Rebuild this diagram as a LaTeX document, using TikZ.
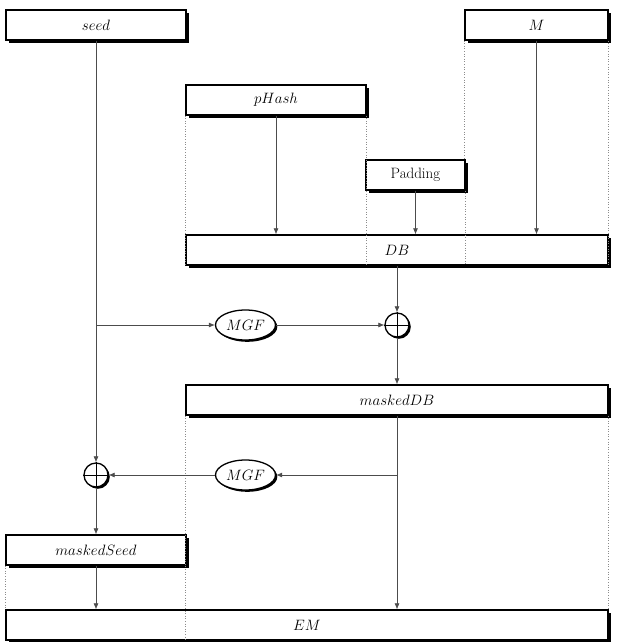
\RequirePackage{fix-cm}
\documentclass[tikz,border=0pt]{standalone}
\usetikzlibrary{arrows.meta,shapes.geometric,shadows}
\begin{document}
\begin{tikzpicture}[x=1pt,y=-1pt,
  shad/.style={drop shadow={shadow xshift=3pt,shadow yshift=-3pt,fill=black,opacity=1}},
  rshad/.style={drop shadow={shadow xshift=1.8pt,shadow yshift=-1.8pt,fill=black,opacity=1}},
  box/.style={draw,rectangle,line width=1.3pt,fill=white,inner sep=0pt,minimum height=30pt,
    font=\fontsize{15}{18}\selectfont,shad},
  mgf/.style={draw,ellipse,line width=1.3pt,fill=white,inner sep=0pt,minimum width=60pt,
    minimum height=30pt,font=\fontsize{15}{18}\selectfont,rshad},
  xorc/.style={draw,circle,line width=1.3pt,fill=white,inner sep=0pt,minimum size=24pt,rshad},
  conn/.style={draw=black!70,line width=0.7pt,-{Latex[length=6pt,width=5pt]}},
  dots/.style={draw=black!45,line width=0.6pt,dotted}]
\useasboundingbox (0,0) rectangle (618,642);
% boxes
\node[box,minimum width=180pt] (seed) at (96,25) {$seed$};
\node[box,minimum width=143pt] (M) at (536.5,25) {$M$};
\node[box,minimum width=180pt] (pHash) at (276,100) {$pHash$};
\node[box,minimum width=99pt] (Pad) at (415.5,175) {Padding};
\node[box,minimum width=422pt] (DB) at (397,250) {$DB$};
\node[mgf] (m1) at (245.5,325) {$MGF$};
\node[xorc] (x1) at (397,325) {};
\node[box,minimum width=422pt] (mDB) at (397,400) {$maskedDB$};
\node[mgf] (m2) at (245.5,475) {$MGF$};
\node[xorc] (x2) at (96,475) {};
\node[box,minimum width=180pt] (mSeed) at (96,550) {$maskedSeed$};
\node[box,minimum width=602pt] (EM) at (307,625) {$EM$};
% xor crosses
\foreach \n in {x1,x2}{
  \draw[line width=0.7pt] (\n.north) -- (\n.south) (\n.west) -- (\n.east);
}
% dotted guides
\draw[dots] (pHash.south west) -- (pHash.south west |- DB.south);
\draw[dots] (pHash.south east) -- (pHash.south east |- DB.south);
\draw[dots] (Pad.south east) -- (Pad.south east |- DB.south);
\draw[dots] (M.south west) -- (M.south west |- Pad.north);
\draw[dots] (M.south east) -- (M.south east |- DB.south);
\draw[dots] (mDB.south west) -- (mDB.south west |- EM.south);
\draw[dots] (mDB.south east) -- (mDB.south east |- EM.north);
\draw[dots] (mSeed.south west) -- (mSeed.south west |- EM.north);
% connectors
\draw[conn] (seed.south) -- (x2.north);
\draw[conn] (seed.south |- m1.west) -- (m1.west);
\draw[conn] (m1.east) -- (x1.west);
\draw[conn] (DB.south -| x1.north) -- (x1.north);
\draw[conn] (x1.south) -- (x1.south |- mDB.north);
\draw[conn] (mDB.south -| x1.south) -- (x1.south |- EM.north);
\draw[conn] (x1.south |- m2.east) -- (m2.east);
\draw[conn] (m2.west) -- (x2.east);
\draw[conn] (x2.south) -- (mSeed.north);
\draw[conn] (mSeed.south) -- (mSeed.south |- EM.north);
\draw[conn] (pHash.south) -- (pHash.south |- DB.north);
\draw[conn] (Pad.south) -- (Pad.south |- DB.north);
\draw[conn] (M.south) -- (M.south |- DB.north);
\end{tikzpicture}
\end{document}
